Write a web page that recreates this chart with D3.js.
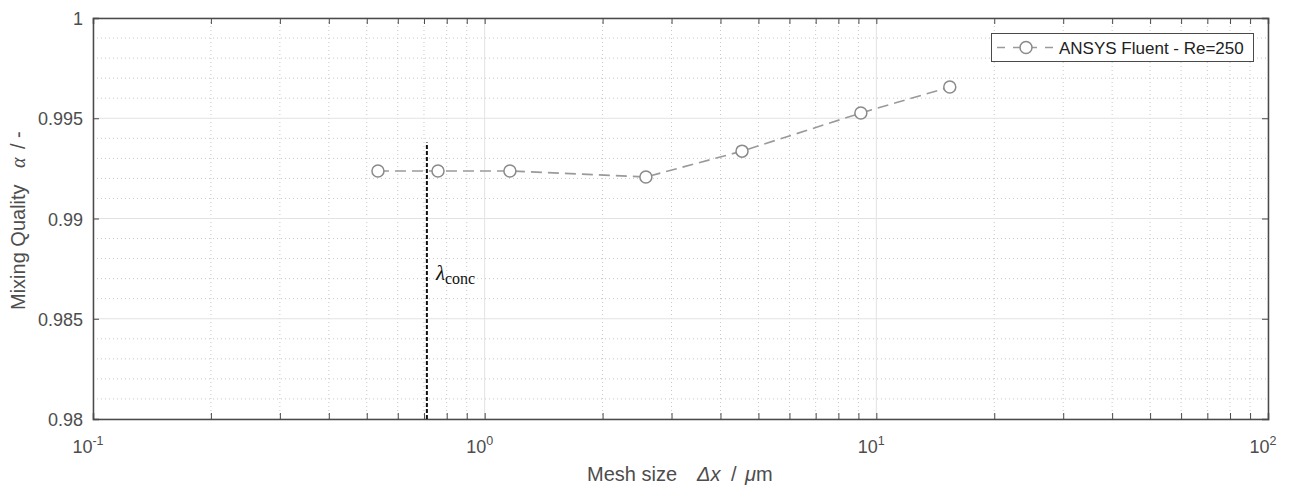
<!DOCTYPE html>
<html>
<head>
<meta charset="utf-8">
<script src="https://cdn.jsdelivr.net/npm/d3@7"></script>
<style>
  body { margin: 0; background: #fff; }
  svg { font-family: "Liberation Sans", Arial, sans-serif; }
</style>
</head>
<body>
<svg id="chart" width="1295" height="485"></svg>
<script>
// mesh study data
var meshSize = [0.534, 0.760, 1.16, 2.58, 4.54, 9.13, 15.4];
var mixingQuality = [0.99237, 0.99237, 0.99237, 0.99207, 0.99336, 0.99526, 0.99656];
var seriesName = "ANSYS Fluent - Re=250";
var lambdaConc = 0.712;
var lambdaRange = [0.98, 0.99379];
var yTicks = [0.98, 0.985, 0.99, 0.995, 1];
var xTicks = [0.1, 1, 10, 100];
var xTickExp = ["-1", "0", "1", "2"];

var margin = {left: 93, right: 27, top: 18, bottom: 66};
var W = 1295, H = 485;
var svg = d3.select('#chart');

var x = d3.scaleLog().domain([0.1, 100]).range([margin.left, W - margin.right]);
var y = d3.scaleLinear().domain([0.98, 1]).range([H - margin.bottom, margin.top]);

var g = svg.append('g');

// minor grid
var minorX = [];
[0.1, 1, 10].forEach(function(d) {
    for (var k = 2; k <= 9; k++) minorX.push(d * k);
});
var minorY = d3.range(0, 21).map(function(i) { return 0.98 + i * 0.001; })
    .filter(function(v) { return Math.round(v * 1000) % 5 != 0; });

g.selectAll('.minx').data(minorX).enter().append('line')
    .attr('x1', function(d) { return x(d); }).attr('x2', function(d) { return x(d); })
    .attr('y1', y(0.98)).attr('y2', y(1))
    .attr('stroke', '#c8c8c8').attr('stroke-width', 1).attr('stroke-dasharray', '1,3');
g.selectAll('.miny').data(minorY).enter().append('line')
    .attr('x1', x(0.1)).attr('x2', x(100))
    .attr('y1', function(d) { return y(d); }).attr('y2', function(d) { return y(d); })
    .attr('stroke', '#c8c8c8').attr('stroke-width', 1).attr('stroke-dasharray', '1,3');

// major grid
g.selectAll('.majx').data(xTicks).enter().append('line')
    .attr('x1', function(d) { return x(d); }).attr('x2', function(d) { return x(d); })
    .attr('y1', y(0.98)).attr('y2', y(1))
    .attr('stroke', '#e2e2e2').attr('stroke-width', 1);
g.selectAll('.majy').data(yTicks).enter().append('line')
    .attr('x1', x(0.1)).attr('x2', x(100))
    .attr('y1', function(d) { return y(d); }).attr('y2', function(d) { return y(d); })
    .attr('stroke', '#e2e2e2').attr('stroke-width', 1);

// axes with inward ticks
var bottomAx = d3.axisBottom(x).tickValues(xTicks.concat(minorX)).tickSize(-6).tickFormat('');
var topAx = d3.axisTop(x).tickValues(xTicks.concat(minorX)).tickSize(-6).tickFormat('');
var leftAx = d3.axisLeft(y).tickValues(yTicks).tickSize(-6).tickFormat('');
var rightAx = d3.axisRight(y).tickValues(yTicks).tickSize(-6).tickFormat('');

function styleAxis(sel) {
    sel.selectAll('path').attr('stroke', '#4a4a4a').attr('stroke-width', 1.5);
    sel.selectAll('line').attr('stroke', '#4a4a4a').attr('stroke-width', 1);
}
g.append('g').attr('transform', 'translate(0,' + y(0.98) + ')').call(bottomAx).call(styleAxis);
g.append('g').attr('transform', 'translate(0,' + y(1) + ')').call(topAx).call(styleAxis);
g.append('g').attr('transform', 'translate(' + x(0.1) + ',0)').call(leftAx).call(styleAxis);
g.append('g').attr('transform', 'translate(' + x(100) + ',0)').call(rightAx).call(styleAxis);

// tick labels
g.selectAll('.ylab').data(yTicks).enter().append('text')
    .attr('x', x(0.1) - 10).attr('y', function(d) { return y(d) + 7; })
    .attr('text-anchor', 'end').attr('font-size', 18).attr('fill', '#4d4d4d')
    .text(function(d) { return d3.format('')(d); });

var xl = g.selectAll('.xlab').data(xTicks).enter().append('text')
    .attr('x', function(d) { return x(d) - 5; }).attr('y', y(0.98) + 34)
    .attr('text-anchor', 'middle').attr('font-size', 18).attr('fill', '#4d4d4d');
xl.append('tspan').text('10');
xl.append('tspan').attr('dy', -8).attr('font-size', 12.5)
    .text(function(d, i) { return xTickExp[i]; });

// axis titles
var xt = svg.append('text').attr('y', 481).attr('font-size', 20).attr('fill', '#4d4d4d');
xt.append('tspan').attr('x', 587).text('Mesh size');
xt.append('tspan').attr('x', 697).attr('font-style', 'italic').text('Δx');
xt.append('tspan').attr('x', 731).text('/');
xt.append('tspan').attr('x', 745).attr('font-style', 'italic').text('μ');
xt.append('tspan').text('m');

var yt = svg.append('text').attr('transform', 'translate(25,310) rotate(-90)')
    .attr('font-size', 20).attr('fill', '#4d4d4d');
yt.append('tspan').attr('x', 0).text('Mixing Quality');
yt.append('tspan').attr('x', 142).attr('font-style', 'italic')
    .attr('font-family', '"Liberation Serif", serif').text('α');
yt.append('tspan').attr('x', 161).text('/ -');

// lambda_conc marker
g.append('line')
    .attr('x1', x(lambdaConc)).attr('x2', x(lambdaConc))
    .attr('y1', y(lambdaRange[0])).attr('y2', y(lambdaRange[1]))
    .attr('stroke', '#111').attr('stroke-width', 2).attr('stroke-dasharray', '4,2');
var lt = g.append('text').attr('x', x(lambdaConc) + 9).attr('y', 280)
    .attr('font-family', '"Liberation Serif", "DejaVu Serif", serif').attr('fill', '#111');
lt.append('tspan').attr('font-size', 21).attr('font-style', 'italic').text('λ');
lt.append('tspan').attr('font-size', 16).attr('dy', 4).text('conc');

// series
var pts = meshSize.map(function(d, i) { return [d, mixingQuality[i]]; });
var line = d3.line().x(function(d) { return x(d[0]); }).y(function(d) { return y(d[1]); });
g.append('path').datum(pts).attr('d', line)
    .attr('fill', 'none').attr('stroke', '#9a9a9a').attr('stroke-width', 1.6)
    .attr('stroke-dasharray', '11,6');
g.selectAll('.pt').data(pts).enter().append('circle')
    .attr('cx', function(d) { return x(d[0]); }).attr('cy', function(d) { return y(d[1]); })
    .attr('r', 6).attr('fill', '#fff').attr('stroke', '#8a8a8a').attr('stroke-width', 1.5);

// legend
var lg = svg.append('g');
lg.append('rect').attr('x', 991.5).attr('y', 33.5).attr('width', 262).attr('height', 28)
    .attr('fill', '#fff').attr('stroke', '#4a4a4a').attr('stroke-width', 1);
lg.append('line').attr('x1', 997).attr('x2', 1056).attr('y1', 47.5).attr('y2', 47.5)
    .attr('stroke', '#9a9a9a').attr('stroke-width', 1.6).attr('stroke-dasharray', '8,8');
lg.append('circle').attr('cx', 1026).attr('cy', 47.5).attr('r', 6)
    .attr('fill', '#fff').attr('stroke', '#8a8a8a').attr('stroke-width', 1.5);
lg.append('text').attr('x', 1059).attr('y', 54).attr('font-size', 17).attr('fill', '#222')
    .text(seriesName);
</script>
</body>
</html>
